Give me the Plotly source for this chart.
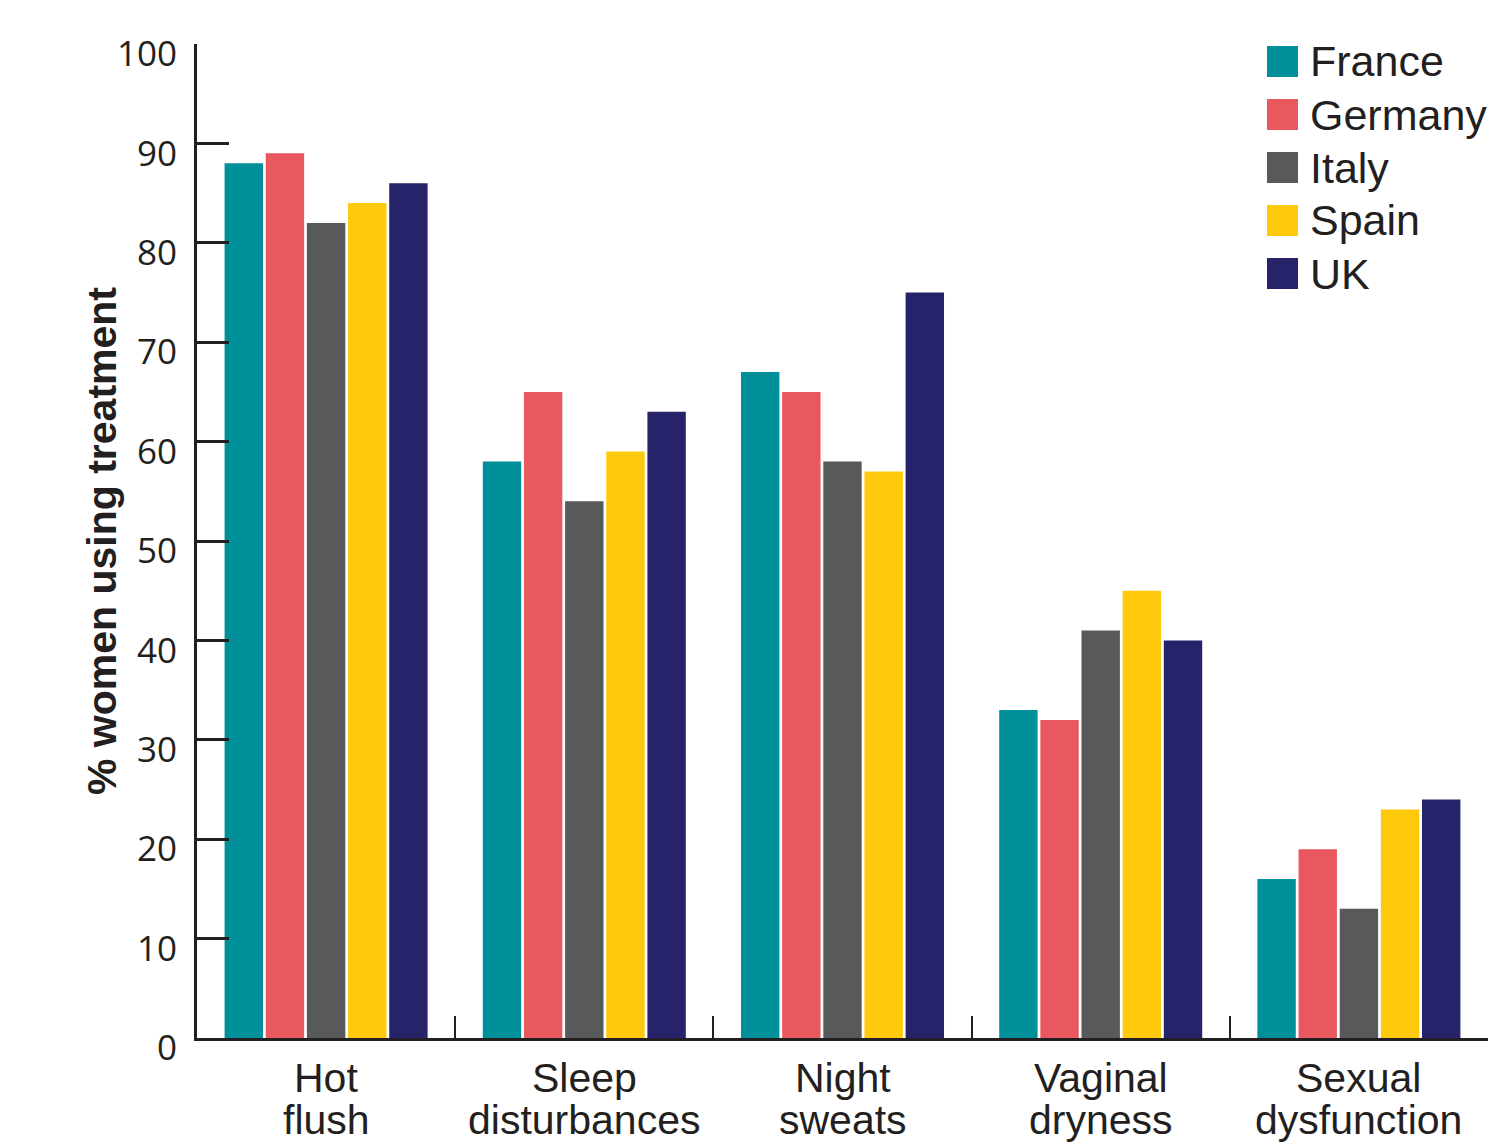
import plotly.graph_objects as go

# Symptom categories and share of women using treatment (%) per country
categories = ["Hot flush", "Sleep disturbances", "Night sweats", "Vaginal dryness", "Sexual dysfunction"]
countries = ["France", "Germany", "Italy", "Spain", "UK"]
colors = ["#00909A", "#E8585E", "#58595B", "#FFCA0C", "#27236A"]

france = [88, 58, 67, 33, 16]
germany = [89, 65, 65, 32, 19]
italy = [82, 54, 58, 41, 13]
spain = [84, 59, 57, 45, 23]
uk = [86, 63, 75, 40, 24]
series = [france, germany, italy, spain, uk]

y_ticks = list(range(0, 101, 10))
y_title = "% women using treatment"

W, H = 1489, 1143
M_L, M_R, M_T, M_B = 197, 1, 44, 105
INK = "#231F20"


def px_x(x):
    return (x - M_L) / (W - M_L - M_R)


def px_y(y):
    return (H - M_B - y) / (H - M_T - M_B)


fig = go.Figure()
for name, vals, col in zip(countries, series, colors):
    fig.add_trace(go.Bar(x=categories, y=vals, name=name, marker_color=col,
                         marker_line_width=0, showlegend=False))

# Two-line category labels under the axis
annotations = []
for cat in categories:
    top, bottom = cat.split(" ", 1)
    for text, shift in ((top, -40), (bottom, -82)):
        annotations.append(dict(x=cat, xref="x", y=0, yref="paper", yanchor="middle",
                                yshift=shift, text=text, showarrow=False,
                                font=dict(family="Liberation Sans", size=41, color=INK)))

# Rotated y-axis title
annotations.append(dict(x=px_x(102), xref="paper", y=0.5, yref="paper",
                        xanchor="center", yanchor="middle", textangle=-90,
                        text="<b>" + y_title + "</b>", showarrow=False,
                        font=dict(family="Liberation Sans", size=41, color=INK)))

# Legend: coloured squares with country names
shapes = []
row_top, row_step, sq = 46, 53, 31
for i, (name, col) in enumerate(zip(countries, colors)):
    t = row_top + i * row_step
    shapes.append(dict(type="rect", xref="paper", yref="paper",
                       x0=px_x(1267), x1=px_x(1298), y0=px_y(t + sq), y1=px_y(t),
                       fillcolor=col, line_width=0))
    annotations.append(dict(x=px_x(1308), xref="paper", y=px_y(t + sq / 2), yref="paper",
                            xanchor="left", yanchor="middle", text=name, showarrow=False,
                            font=dict(family="Liberation Sans", size=43, color=INK)))

fig.update_layout(
    width=W, height=H,
    margin=dict(l=M_L, r=M_R, t=M_T, b=M_B),
    paper_bgcolor="white", plot_bgcolor="white",
    barmode="group", bargap=0.203, bargroupgap=0.067,
    annotations=annotations, shapes=shapes,
    xaxis=dict(showline=True, linecolor=INK, linewidth=3, showgrid=False,
               ticks="inside", tickson="boundaries", ticklen=22, tickwidth=2,
               tickcolor=INK, showticklabels=False, range=[-0.5, 4.5], fixedrange=True),
    yaxis=dict(range=[0, 100], tickvals=y_ticks, showline=True, linecolor=INK, linewidth=3,
               showgrid=False, zeroline=False, ticks="inside", ticklen=32, tickwidth=3,
               tickcolor=INK, ticklabelshift=10, ticklabelstandoff=10,
               tickfont=dict(family="Open Sans", size=35, color=INK)),
)

fig.write_html("out.html")
